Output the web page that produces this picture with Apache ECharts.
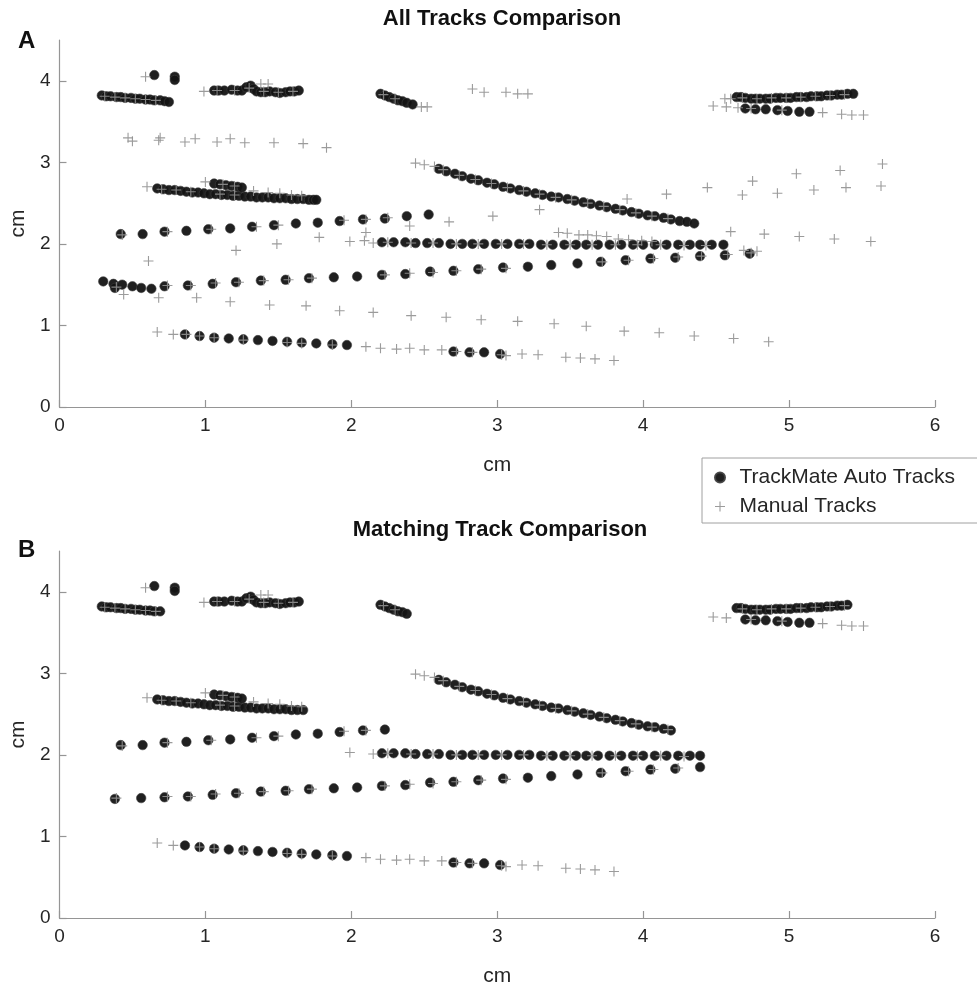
<!DOCTYPE html>
<html>
<head>
<meta charset="utf-8">
<title>Track Comparison</title>
<script src="https://cdn.jsdelivr.net/npm/echarts@6/dist/echarts.min.js"></script>
<style>
  html, body { margin: 0; padding: 0; background: #ffffff; }
  #chart { width: 977px; height: 989px; }
</style>
</head>
<body>
<div id="chart"></div>
<script>
// ---- Axis ticks ----
const xTicks = [0, 1, 2, 3, 4, 5, 6];
const yTicks = [0, 1, 2, 3, 4];

// ---- TrackMate auto tracks (cm) ----
const autoTopLeft = [[0.29,3.82],[0.32,3.81],[0.35,3.81],[0.39,3.80],[0.42,3.80],[0.45,3.79],[0.49,3.79],[0.52,3.78],[0.55,3.78],[0.59,3.77],[0.62,3.77],[0.65,3.76],[0.69,3.76],[0.72,3.75],[0.75,3.74]];
const autoTopPair = [[0.65,4.07],[0.79,4.05],[0.79,4.01]];
const autoTopMid = [[1.06,3.88],[1.09,3.88],[1.13,3.88],[1.18,3.89],[1.22,3.88],[1.25,3.88],[1.28,3.92],[1.31,3.94],[1.33,3.90],[1.35,3.87],[1.38,3.86],[1.41,3.86],[1.44,3.87],[1.48,3.86],[1.51,3.85],[1.55,3.86],[1.58,3.87],[1.61,3.87],[1.64,3.88]];
const autoTopShort = [[2.20,3.84],[2.23,3.82],[2.26,3.80],[2.29,3.78],[2.32,3.76],[2.35,3.75],[2.38,3.73],[2.42,3.71]];
const autoTopRight = [[4.64,3.80],[4.67,3.80],[4.70,3.79],[4.74,3.78],[4.77,3.78],[4.80,3.78],[4.84,3.78],[4.87,3.78],[4.91,3.79],[4.94,3.79],[4.98,3.79],[5.01,3.79],[5.05,3.80],[5.08,3.80],[5.12,3.80],[5.15,3.81],[5.19,3.81],[5.22,3.81],[5.26,3.82],[5.29,3.82],[5.33,3.83],[5.36,3.83],[5.40,3.84],[5.44,3.84]];
const autoTopRightLow = [[4.70,3.66],[4.77,3.65],[4.84,3.65],[4.92,3.64],[4.99,3.63],[5.07,3.62],[5.14,3.62]];
const autoUpperBand = [[0.67,2.68],[0.71,2.67],[0.75,2.66],[0.79,2.66],[0.83,2.65],[0.87,2.64],[0.91,2.63],[0.95,2.63],[0.99,2.62],[1.03,2.61],[1.07,2.61],[1.11,2.60],[1.15,2.60],[1.19,2.59],[1.23,2.59],[1.27,2.58],[1.31,2.58],[1.35,2.57],[1.39,2.57],[1.43,2.57],[1.47,2.56],[1.51,2.56],[1.55,2.56],[1.59,2.55],[1.63,2.55],[1.67,2.55],[1.71,2.54],[1.74,2.54],[1.76,2.54]];
const autoUpperBandShort = [[1.06,2.74],[1.10,2.73],[1.14,2.72],[1.18,2.71],[1.22,2.70],[1.25,2.69]];
const autoDiagonal = [[2.60,2.92],[2.65,2.89],[2.71,2.86],[2.76,2.83],[2.82,2.80],[2.87,2.78],[2.93,2.75],[2.98,2.73],[3.04,2.70],[3.09,2.68],[3.15,2.66],[3.20,2.64],[3.26,2.62],[3.31,2.60],[3.37,2.58],[3.42,2.57],[3.48,2.55],[3.53,2.53],[3.59,2.51],[3.64,2.49],[3.70,2.47],[3.75,2.45],[3.81,2.43],[3.86,2.41],[3.92,2.39],[3.97,2.37],[4.03,2.35],[4.08,2.34],[4.14,2.32],[4.19,2.30],[4.25,2.28],[4.30,2.27],[4.35,2.25]];
const autoRising = [[0.42,2.12],[0.57,2.12],[0.72,2.15],[0.87,2.16],[1.02,2.18],[1.17,2.19],[1.32,2.21],[1.47,2.23],[1.62,2.25],[1.77,2.26],[1.92,2.28],[2.08,2.30],[2.23,2.31],[2.38,2.34],[2.53,2.36]];
const autoFlat = [[2.21,2.02],[2.29,2.02],[2.37,2.02],[2.44,2.01],[2.52,2.01],[2.60,2.01],[2.68,2.00],[2.76,2.00],[2.83,2.00],[2.91,2.00],[2.99,2.00],[3.07,2.00],[3.15,2.00],[3.22,2.00],[3.30,1.99],[3.38,1.99],[3.46,1.99],[3.54,1.99],[3.61,1.99],[3.69,1.99],[3.77,1.99],[3.85,1.99],[3.93,1.99],[4.00,1.99],[4.08,1.99],[4.16,1.99],[4.24,1.99],[4.32,1.99],[4.39,1.99],[4.47,1.99],[4.55,1.99]];
const autoLowHeadAll = [[0.30,1.54],[0.37,1.51],[0.38,1.46],[0.43,1.50],[0.50,1.48],[0.56,1.46],[0.63,1.45]];
const autoLowHeadMatched = [[0.38,1.46],[0.56,1.47]];
const autoLowBody = [[0.72,1.48],[0.88,1.49],[1.05,1.51],[1.21,1.53],[1.38,1.55],[1.55,1.56],[1.71,1.58],[1.88,1.59],[2.04,1.60],[2.21,1.62],[2.37,1.63],[2.54,1.66],[2.70,1.67],[2.87,1.69],[3.04,1.71],[3.21,1.72],[3.37,1.74],[3.55,1.76],[3.71,1.78],[3.88,1.80],[4.05,1.82],[4.22,1.83],[4.39,1.85]];
const autoLowTail = [[4.56,1.86],[4.73,1.88]];
const autoBottom = [[0.86,0.89],[0.96,0.87],[1.06,0.85],[1.16,0.84],[1.26,0.83],[1.36,0.82],[1.46,0.81],[1.56,0.80],[1.66,0.79],[1.76,0.78],[1.87,0.77],[1.97,0.76],[2.70,0.68],[2.81,0.67],[2.91,0.67],[3.02,0.65]];

// ---- Manual tracks (cm) ----
const manualMatched = [[0.59,4.05],[0.99,3.87],[1.38,3.96],[1.43,3.96],[0.60,2.70],[1.00,2.76],[1.33,2.65],[1.43,2.63],[1.51,2.62],[1.59,2.60],[1.66,2.59],[2.44,2.99],[2.50,2.97],[2.57,2.95],[4.48,3.69],[4.57,3.68],[5.23,3.61],[5.36,3.59],[5.43,3.58],[5.51,3.58],[1.99,2.03],[2.15,2.01],[0.67,0.92],[0.78,0.89]];
const manualBottomTail = [[2.10,0.74],[2.20,0.72],[2.31,0.71],[2.40,0.72],[2.50,0.70],[2.62,0.70],[3.06,0.63],[3.17,0.65],[3.28,0.64],[3.47,0.61],[3.57,0.60],[3.67,0.59],[3.80,0.57]];
const manualOnTracks = [[0.31,3.81],[0.38,3.80],[0.45,3.79],[0.52,3.78],[0.59,3.77],[0.66,3.76],[1.08,3.88],[1.20,3.88],[1.30,3.91],[1.40,3.87],[1.50,3.86],[1.60,3.87],[2.22,3.83],[2.30,3.78],[4.68,3.79],[4.78,3.78],[4.88,3.79],[4.98,3.79],[5.08,3.80],[5.18,3.81],[5.28,3.82],[5.38,3.83],[4.74,3.66],[4.95,3.64],[0.70,2.67],[0.80,2.66],[0.90,2.64],[1.10,2.61],[1.20,2.60],[1.12,2.73],[1.20,2.71],[2.63,2.91],[2.74,2.84],[2.85,2.79],[2.96,2.74],[3.07,2.69],[3.18,2.65],[3.29,2.61],[3.40,2.57],[3.51,2.54],[3.62,2.50],[3.73,2.46],[3.84,2.42],[3.95,2.38],[4.06,2.34],[4.17,2.31],[2.25,2.02],[2.41,2.01],[2.56,2.01],[2.72,2.00],[2.87,2.00],[3.03,2.00],[3.18,2.00],[3.34,1.99],[3.50,1.99],[3.65,1.99],[3.81,1.99],[3.96,1.99],[4.12,1.99],[4.28,1.98],[0.43,2.11],[0.74,2.15],[1.04,2.18],[1.35,2.21],[1.50,2.23],[1.95,2.29],[2.10,2.30],[0.39,1.47],[0.74,1.49],[0.90,1.49],[1.07,1.52],[1.23,1.53],[1.40,1.55],[1.57,1.56],[1.73,1.58],[2.23,1.62],[2.40,1.64],[2.56,1.65],[2.72,1.67],[2.89,1.69],[3.06,1.70],[3.72,1.78],[3.90,1.80],[4.07,1.82],[4.24,1.84],[0.96,0.87],[1.06,0.85],[1.26,0.82],[1.56,0.79],[1.66,0.78],[1.87,0.76],[2.72,0.68],[2.83,0.67],[3.03,0.64]];
const manualUnmatched = [
  [0.47,3.30],[0.50,3.26],[0.68,3.27],[0.69,3.30],[0.86,3.25],[0.93,3.29],[1.08,3.25],[1.17,3.29],[1.27,3.24],[1.47,3.24],[1.67,3.23],[1.83,3.18],
  [2.83,3.90],[2.91,3.86],[3.06,3.86],[3.14,3.84],[3.21,3.84],[2.48,3.68],[2.52,3.68],[4.56,3.78],[4.60,3.78],[4.65,3.67],
  [3.89,2.55],[4.16,2.61],[4.44,2.69],[4.75,2.77],[5.05,2.86],[5.35,2.90],[5.64,2.98],
  [4.68,2.60],[4.92,2.62],[5.17,2.66],[5.39,2.69],[5.63,2.71],
  [4.60,2.15],[4.83,2.12],[5.07,2.09],[5.31,2.06],[5.56,2.03],[4.69,1.92],[4.78,1.91],
  [3.42,2.14],[3.48,2.13],[3.56,2.11],[3.62,2.11],[3.68,2.10],[3.75,2.09],[3.83,2.06],[3.90,2.05],[3.99,2.04],[4.06,2.03],
  [0.61,1.79],[1.21,1.92],[1.49,2.00],[1.78,2.08],[2.09,2.04],[2.10,2.14],[2.40,2.22],[2.67,2.27],[2.97,2.34],[3.29,2.42],
  [0.44,1.38],[0.68,1.34],[0.94,1.34],[1.17,1.29],[1.44,1.25],[1.69,1.24],[1.92,1.18],[2.15,1.16],[2.41,1.12],[2.65,1.10],[2.89,1.07],[3.14,1.05],[3.39,1.02],[3.61,0.99],[3.87,0.93],
  [4.11,0.91],[4.35,0.87],[4.62,0.84],[4.86,0.80],[0.87,0.89],
  [4.40,1.85],[4.58,1.87],[4.74,1.89],[2.25,2.32],[4.43,1.98]
];

const NAME_AUTO = 'TrackMate Auto Tracks';
const NAME_MANUAL = 'Manual Tracks';

// Panel A: every track; panel B: tracks with a matching manual track
const autoAll = [].concat(autoTopLeft, autoTopPair, autoTopMid, autoTopShort, autoTopRight, autoTopRightLow,
  autoUpperBand, autoUpperBandShort, autoDiagonal, autoRising, autoFlat, autoLowHeadAll, autoLowBody, autoLowTail, autoBottom);
const autoMatched = [].concat(autoTopLeft.slice(0, 13), autoTopPair, autoTopMid, autoTopShort.slice(0, 7), autoTopRight.slice(0, 23),
  autoTopRightLow, autoUpperBand.slice(0, 26), autoUpperBandShort, autoDiagonal.slice(0, 30), autoRising.slice(0, 13),
  autoFlat.slice(0, 29), autoLowHeadMatched, autoLowBody, autoBottom);
const manualAll = [].concat(manualMatched, manualBottomTail, manualOnTracks, manualUnmatched);
const manualMatchedAll = [].concat(manualMatched, manualBottomTail, manualOnTracks);

const FONT = '"Liberation Sans", Arial, Helvetica, sans-serif';
const TEXT = '#262626';
const AXIS = '#959595';
const PLUS = 'path://M4.45,0 H5.55 V10 H4.45 Z M0,4.45 H10 V5.55 H0 Z';

const grids = [
  { left: 57, top: 40, width: 878, height: 367 },
  { left: 57, top: 551, width: 878, height: 367 }
];

function xAxisFor(i) {
  return {
    gridIndex: i, type: 'value', min: 0, max: 6, interval: 1,
    name: 'cm', nameLocation: 'middle', nameGap: 48,
    nameTextStyle: { fontFamily: FONT, fontSize: 21, color: TEXT },
    axisLine: { show: true, onZero: false, lineStyle: { color: AXIS, width: 1.2 } },
    axisTick: { show: true, inside: true, length: 7, lineStyle: { color: AXIS, width: 1.2 } },
    axisLabel: { fontFamily: FONT, fontSize: 19, color: TEXT, margin: 9,
      formatter: v => (xTicks.indexOf(v) >= 0 ? String(v) : '') },
    splitLine: { show: false }
  };
}
function yAxisFor(i) {
  return {
    gridIndex: i, type: 'value', min: 0, max: 4.5, interval: 1,
    name: 'cm', nameLocation: 'middle', nameGap: 21, nameRotate: 90,
    nameTextStyle: { fontFamily: FONT, fontSize: 21, color: TEXT },
    axisLine: { show: true, onZero: false, lineStyle: { color: AXIS, width: 1.2 } },
    axisTick: { show: true, inside: true, length: 7, customValues: yTicks, lineStyle: { color: AXIS, width: 1.2 } },
    axisLabel: { fontFamily: FONT, fontSize: 19, color: TEXT, margin: 9, customValues: yTicks,
      formatter: v => (yTicks.indexOf(v) >= 0 ? String(v) : '') },
    splitLine: { show: false }
  };
}
function autoSeries(i, data) {
  return {
    name: NAME_AUTO, type: 'scatter', xAxisIndex: i, yAxisIndex: i, data: data,
    symbol: 'circle', symbolSize: 9.5, z: 2,
    itemStyle: { color: '#141414', borderColor: '#404040', borderWidth: 0.6, opacity: 0.95 }
  };
}
function manualSeries(i, data) {
  return {
    name: NAME_MANUAL, type: 'scatter', xAxisIndex: i, yAxisIndex: i, data: data,
    symbol: PLUS, symbolSize: 10, z: 3,
    itemStyle: { color: '#909090', opacity: 0.9 }
  };
}

const chart = echarts.init(document.getElementById('chart'), null, { renderer: 'canvas' });
chart.setOption({
  animation: false,
  backgroundColor: '#ffffff',
  title: [
    { text: 'All Tracks Comparison', left: 497, top: 3, textAlign: 'center',
      textStyle: { fontFamily: FONT, fontSize: 22, fontWeight: 'bold', color: '#111' } },
    { text: 'Matching Track Comparison', left: 495, top: 514, textAlign: 'center',
      textStyle: { fontFamily: FONT, fontSize: 22, fontWeight: 'bold', color: '#111' } },
    { text: 'A', left: 13, top: 24, textStyle: { fontFamily: FONT, fontSize: 24, fontWeight: 'bold', color: '#111' } },
    { text: 'B', left: 13, top: 533, textStyle: { fontFamily: FONT, fontSize: 24, fontWeight: 'bold', color: '#111' } }
  ],
  legend: {
    data: [NAME_AUTO, NAME_MANUAL], orient: 'vertical', left: 702, top: 458,
    padding: [9, 30, 6, 12], itemGap: 8, itemWidth: 29, itemHeight: 10,
    borderColor: '#a0a0a0', borderWidth: 1, backgroundColor: '#ffffff',
    textStyle: { fontFamily: FONT, fontSize: 21, color: TEXT }
  },
  grid: grids,
  xAxis: [xAxisFor(0), xAxisFor(1)],
  yAxis: [yAxisFor(0), yAxisFor(1)],
  series: [
    autoSeries(0, autoAll), manualSeries(0, manualAll),
    autoSeries(1, autoMatched), manualSeries(1, manualMatchedAll)
  ]
});
</script>
</body>
</html>
